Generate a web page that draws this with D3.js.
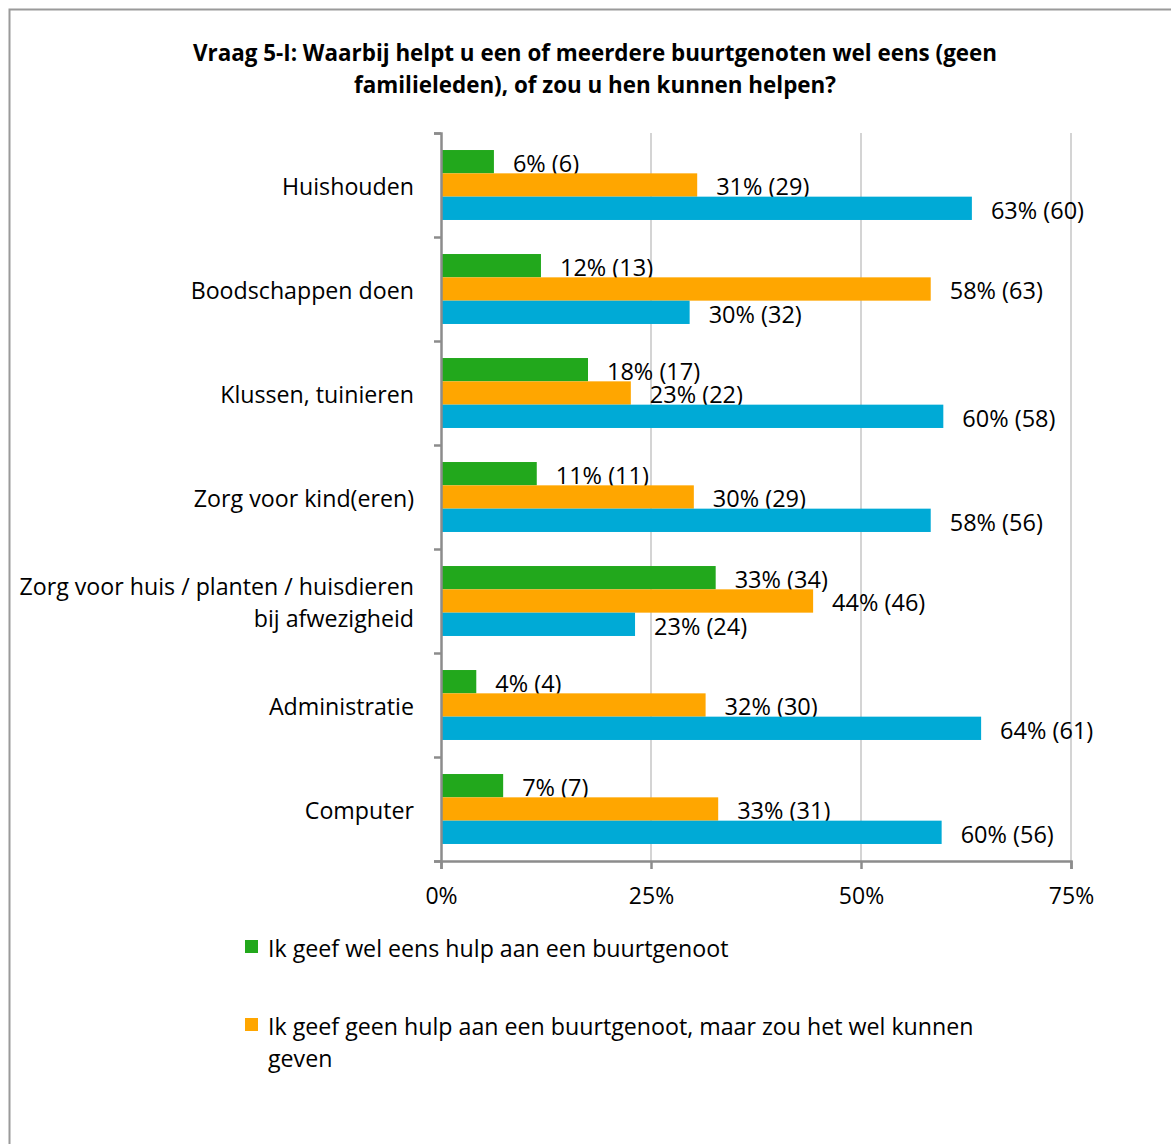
<!DOCTYPE html>
<html>
<head>
<meta charset="utf-8">
<script src="https://cdn.jsdelivr.net/npm/d3@7"></script>
<style>
  body { margin: 0; background: #fff; }
  text { font-family: "Open Sans", sans-serif; fill: #000; }
</style>
</head>
<body>
<div id="chart"></div>
<script>
// data
var categories = ["Huishouden", "Boodschappen doen", "Klussen, tuinieren", "Zorg voor kind(eren)",
  "Zorg voor huis / planten / huisdieren\nbij afwezigheid", "Administratie", "Computer"];
var seriesNames = ["Ik geef wel eens hulp aan een buurtgenoot",
  "Ik geef geen hulp aan een buurtgenoot, maar zou het wel kunnen\ngeven",
  "Ik geef geen hulp aan een buurtgenoot en zou het ook niet kunnen geven"];
var geeftHulp = [0.063, 0.119, 0.175, 0.114, 0.327, 0.042, 0.074];
var zouKunnen = [0.305, 0.583, 0.226, 0.301, 0.443, 0.315, 0.330];
var nietKunnen = [0.632, 0.296, 0.598, 0.583, 0.231, 0.643, 0.596];
var geeftLabels = ["6% (6)", "12% (13)", "18% (17)", "11% (11)", "33% (34)", "4% (4)", "7% (7)"];
var zouLabels = ["31% (29)", "58% (63)", "23% (22)", "30% (29)", "44% (46)", "32% (30)", "33% (31)"];
var nietLabels = ["63% (60)", "30% (32)", "60% (58)", "58% (56)", "23% (24)", "64% (61)", "60% (56)"];
var xTicks = [0, 0.25, 0.5, 0.75];
var colors = ["#22a81c", "#ffa600", "#00aad6"];

var width = 1171, height = 1144;

var svg = d3.select("#chart").append("svg")
  .attr("width", width)
  .attr("height", height);

// outer frame
svg.append("path")
  .attr("d", "M9.5," + height + "V9.5H" + width)
  .attr("fill", "none")
  .attr("stroke", "#9a9a9a")
  .attr("stroke-width", 2);

// title
var title = ["Vraag 5-I: Waarbij helpt u een of meerdere buurtgenoten wel eens (geen",
  "familieleden), of zou u hen kunnen helpen?"];
svg.append("g").selectAll("text")
  .data(title)
  .enter().append("text")
  .attr("x", 595)
  .attr("y", function(d, i) { return 61 + i * 32; })
  .attr("text-anchor", "middle")
  .style("font-weight", "bold")
  .style("font-size", "22.4px")
  .text(function(d) { return d; });

var plotLeft = 441, plotRight = 1071, plotTop = 133, plotBottom = 861;

var x = d3.scaleLinear().domain([0, 0.75]).range([plotLeft, plotRight]);
var y = d3.scaleBand().domain(categories).range([plotTop, plotBottom]);
var inner = d3.scaleBand().domain([0, 1, 2]).range([0, y.bandwidth()]).paddingOuter(0.73);

// gridlines
svg.append("g").selectAll("line")
  .data(xTicks.slice(1))
  .enter().append("line")
  .attr("x1", function(d) { return x(d); })
  .attr("x2", function(d) { return x(d); })
  .attr("y1", plotTop)
  .attr("y2", plotBottom)
  .attr("stroke", "#d4d4d4")
  .attr("stroke-width", 2);

var series = [
  { values: geeftHulp, labels: geeftLabels },
  { values: zouKunnen, labels: zouLabels },
  { values: nietKunnen, labels: nietLabels }
];

series.forEach(function(s, si) {
  var g = svg.append("g");
  g.selectAll("rect")
    .data(categories)
    .enter().append("rect")
    .attr("x", x(0))
    .attr("y", function(d) { return y(d) + inner(si); })
    .attr("width", function(d, i) { return x(s.values[i]) - x(0); })
    .attr("height", inner.bandwidth())
    .attr("fill", colors[si]);
  g.selectAll("text")
    .data(categories)
    .enter().append("text")
    .attr("x", function(d, i) { return x(s.values[i]) + 19; })
    .attr("y", function(d) { return y(d) + inner(si) + inner.bandwidth() / 2 + 2; })
    .attr("dy", "0.35em")
    .style("font-size", "23.5px")
    .text(function(d, i) { return s.labels[i]; });
});

// y axis (tick marks on category boundaries)
var yIdx = d3.scaleLinear().domain([0, categories.length]).range([plotTop, plotBottom]);
var yAxis = svg.append("g")
  .attr("transform", "translate(" + plotLeft + ",0)")
  .call(d3.axisLeft(yIdx).ticks(categories.length).tickSize(7).tickFormat(""));
yAxis.select(".domain").attr("stroke", "#8c8c8c").attr("stroke-width", 2.5);
yAxis.selectAll(".tick line").attr("stroke", "#8c8c8c").attr("stroke-width", 2.5);

// category labels
svg.append("g").selectAll("text")
  .data(categories)
  .enter().append("text")
  .attr("text-anchor", "end")
  .style("font-size", "23.2px")
  .each(function(d) {
    var lines = d.split("\n");
    var cy = y(d) + y.bandwidth() / 2 + 2;
    d3.select(this).selectAll("tspan")
      .data(lines)
      .enter().append("tspan")
      .attr("x", 414)
      .attr("y", function(l, i) { return cy + (i - (lines.length - 1) / 2) * 32; })
      .attr("dy", "0.35em")
      .text(function(l) { return l; });
  });

// x axis
var xAxis = svg.append("g")
  .attr("transform", "translate(0," + plotBottom + ")")
  .call(d3.axisBottom(x).tickValues(xTicks).tickSize(8).tickPadding(19).tickFormat(d3.format(".0%")));
xAxis.select(".domain").attr("stroke", "#8c8c8c").attr("stroke-width", 2.5);
xAxis.selectAll(".tick line").attr("stroke", "#8c8c8c").attr("stroke-width", 2.5);
xAxis.selectAll(".tick text").style("font-size", "23px").style("font-family", "'Open Sans', sans-serif").attr("fill", "#000");

// legend (only the first two entries fit in the frame)
var legend = svg.append("g").selectAll("g")
  .data(seriesNames.slice(0, 2))
  .enter().append("g")
  .attr("transform", function(d, i) { return "translate(245," + (940 + i * 78) + ")"; });
legend.append("rect")
  .attr("width", 13)
  .attr("height", 13)
  .attr("fill", function(d, i) { return colors[i]; });
legend.append("text")
  .style("font-size", "23.2px")
  .each(function(d) {
    d3.select(this).selectAll("tspan")
      .data(d.split("\n"))
      .enter().append("tspan")
      .attr("x", 23)
      .attr("y", function(l, i) { return 17 + i * 32; })
      .text(function(l) { return l; });
  });
</script>
</body>
</html>
